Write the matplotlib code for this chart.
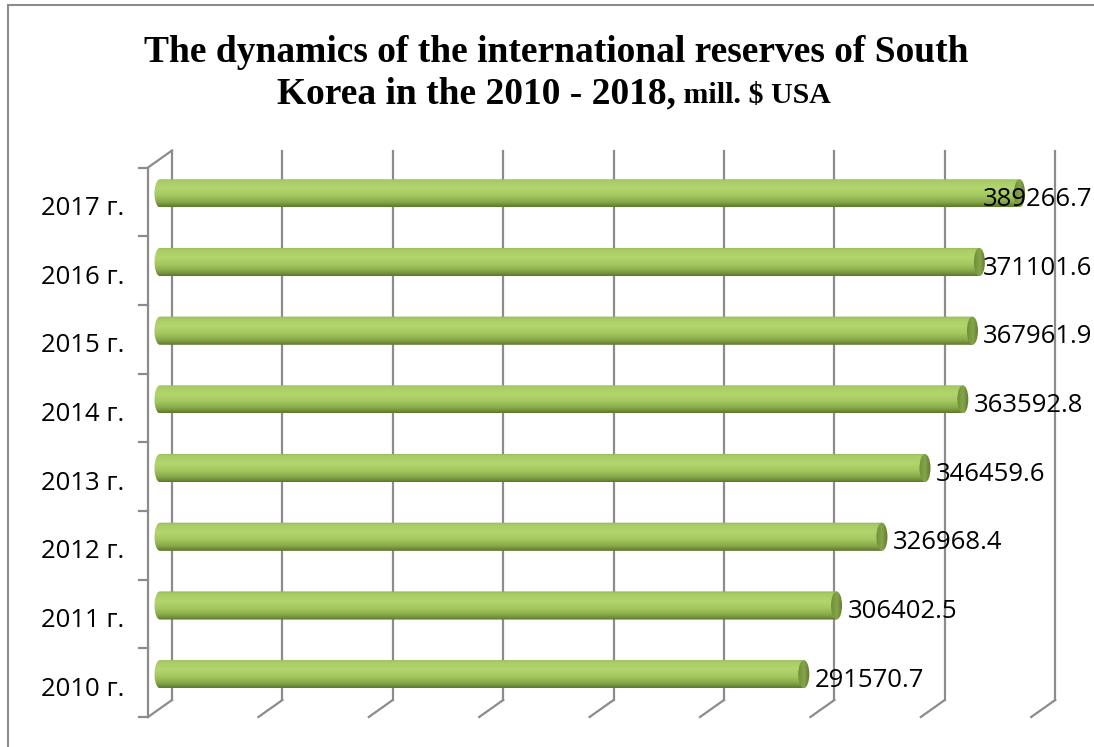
import numpy as np
import matplotlib
matplotlib.use("Agg")
import matplotlib.pyplot as plt
from matplotlib.transforms import ScaledTranslation
from matplotlib.path import Path
from matplotlib.patches import PathPatch, Ellipse, Rectangle
from matplotlib.colors import LinearSegmentedColormap
from matplotlib.lines import Line2D

# ---- data ----
years = ["2010 г.", "2011 г.", "2012 г.", "2013 г.", "2014 г.", "2015 г.", "2016 г.", "2017 г."]
reserves = [291570.7, 306402.5, 326968.4, 346459.6, 363592.8, 367961.9, 371101.6, 389266.7]
grid_values = [0, 50000, 100000, 150000, 200000, 250000, 300000, 350000, 400000]

title_line1 = "The dynamics of the international reserves of South"
title_line2_main = "Korea in the 2010 - 2018,"
title_line2_unit = " mill. $ USA"

DPI = 100
fig = plt.figure(figsize=(10.94, 7.47), dpi=DPI)
W, H = 1094, 747

# plot plane lies in the middle of the 3-D box
left_px, right_px = 160, 1043.2
top_px, bottom_px = 159, 708.5
ax = fig.add_axes([left_px / W, 1 - bottom_px / H, (right_px - left_px) / W, (bottom_px - top_px) / H])
ax.set_xlim(0, 400000)
ax.set_ylim(-0.5, len(years) - 0.5)
for s in ax.spines.values():
    s.set_visible(False)
ax.set_xticks([])
ax.patch.set_alpha(0)

# depth offsets (pixels) of the back wall and the front plane
DX, DY = 12, 8.5
back = ax.transData + ScaledTranslation(DX / DPI, DY / DPI, fig.dpi_scale_trans)
front = ax.transData + ScaledTranslation(-DX / DPI, -DY / DPI, fig.dpi_scale_trans)
grid_col = "#8c8c8c"
ylo, yhi = -0.5, len(years) - 0.5

for g in grid_values:
    # back wall gridline
    ax.add_line(Line2D([g, g], [ylo, yhi], transform=back, color=grid_col, lw=1.6, clip_on=False, zorder=1))
    # floor line running towards the viewer
    x0, y0 = back.transform((g, ylo))
    x1, y1 = front.transform((g, ylo))
    fig.add_artist(Line2D([x0 / W, x1 / W], [y0 / H, y1 / H], transform=fig.transFigure,
                          color=grid_col, lw=1.6, zorder=1))

# left wall
ax.add_line(Line2D([0, 0], [ylo, yhi], transform=front, color=grid_col, lw=1.6, clip_on=False, zorder=1))
xa, ya = front.transform((0, yhi))
xb, yb = back.transform((0, yhi))
fig.add_artist(Line2D([xa / W, xb / W], [ya / H, yb / H], transform=fig.transFigure, color=grid_col, lw=1.6))
# category boundary ticks on the left wall
for k in range(len(years) + 1):
    xt, yt = front.transform((0, k - 0.5))
    fig.add_artist(Line2D([(xt - 9) / W, xt / W], [yt / H, yt / H], transform=fig.transFigure,
                          color=grid_col, lw=1.6))

# ---- cylinder bars ----
body_cmap = LinearSegmentedColormap.from_list("body", [
    (0.0, "#93b455"), (0.1, "#a9cc66"), (0.35, "#b2d56d"), (0.6, "#a4c760"),
    (0.82, "#88a948"), (1.0, "#5c772e")])
cap_cmap = LinearSegmentedColormap.from_list("cap", [
    (0.0, "#6f8d3a"), (0.5, "#86a64a"), (1.0, "#5c772e")])
grad = np.linspace(0, 1, 256).reshape(-1, 1)

bar_h = 0.41
px_per_unit = (right_px - left_px) / 400000
cap_w = 11 / px_per_unit  # ellipse width in data units
ypos = np.arange(len(years))

for y, v in zip(ypos, reserves):
    yt, yb_ = y + bar_h / 2, y - bar_h / 2
    t = np.linspace(0, np.pi, 40)
    arc_x = -(cap_w / 2) * np.sin(t)
    arc_y = yb_ + (yt - yb_) * (1 - np.cos(t)) / 2
    verts = [(0, yt), (v, yt), (v, yb_), (0, yb_)] + list(zip(arc_x, arc_y)) + [(0, yt)]
    shape = PathPatch(Path(verts, closed=False), facecolor="none", edgecolor="none", clip_on=False)
    ax.add_patch(shape)
    im = ax.imshow(grad, cmap=body_cmap, aspect="auto", origin="upper",
                   extent=(-cap_w, v, yb_, yt), zorder=3, interpolation="bilinear")
    im.set_clip_path(shape)
    im.set_clip_box(fig.bbox)
    cap = Ellipse((v, y), cap_w, bar_h, facecolor="none", edgecolor="none", clip_on=False)
    ax.add_patch(cap)
    imc = ax.imshow(grad.T, cmap=cap_cmap, aspect="auto", origin="upper",
                    extent=(v - cap_w / 2, v + cap_w / 2, yb_, yt), zorder=4, interpolation="bilinear")
    imc.set_clip_path(cap)
    imc.set_clip_box(fig.bbox)

ax.set_xlim(0, 400000)
ax.set_ylim(-0.5, len(years) - 0.5)

# ---- category labels ----
font = "Open Sans"
ax.set_yticks(ypos)
ax.set_yticklabels(years, fontsize=18.5, family=font)
ax.tick_params(axis="y", length=0, pad=26)
lab_shift = ScaledTranslation(0, -12 / DPI, fig.dpi_scale_trans)
for lab in ax.get_yticklabels():
    lab.set_transform(lab.get_transform() + lab_shift)

# ---- value labels ----
fig.canvas.draw()
renderer = fig.canvas.get_renderer()
label_off = ScaledTranslation(11 / DPI, -6 / DPI, fig.dpi_scale_trans)
for y, v in zip(ypos, reserves):
    txt = ax.text(v, y, f"{v:.1f}", fontsize=18.5, family=font, ha="left", va="center",
                  transform=ax.transData + label_off, zorder=6, clip_on=False)
    bb = txt.get_window_extent(renderer)
    if bb.x1 > W - 2:
        shift = ScaledTranslation(-(bb.x1 - (W - 2)) / DPI, 0, fig.dpi_scale_trans)
        txt.set_transform(ax.transData + label_off + shift)

# ---- title ----
tfont = "Liberation Serif"
fig.text(556 / W, 1 - 62 / H, title_line1, fontsize=27, fontweight="bold", family=tfont,
         ha="center", va="baseline")
t_main = fig.text(0, 1 - 103 / H, title_line2_main, fontsize=27, fontweight="bold", family=tfont,
                  ha="left", va="baseline")
t_unit = fig.text(0, 1 - 103 / H, title_line2_unit, fontsize=21.5, fontweight="bold", family=tfont,
                  ha="left", va="baseline")
fig.canvas.draw()
w_main = t_main.get_window_extent(renderer).width
w_unit = t_unit.get_window_extent(renderer).width
start = 554 - (w_main + w_unit) / 2
t_main.set_x(start / W)
t_unit.set_x((start + w_main) / W)

# chart frame
fig.add_artist(Rectangle((8 / W, -0.05), 1.2, 1 - 5 / H + 0.05, transform=fig.transFigure,
                         fill=False, edgecolor="#8c8c8c", lw=1.5))

fig.savefig("out.png", dpi=DPI)
